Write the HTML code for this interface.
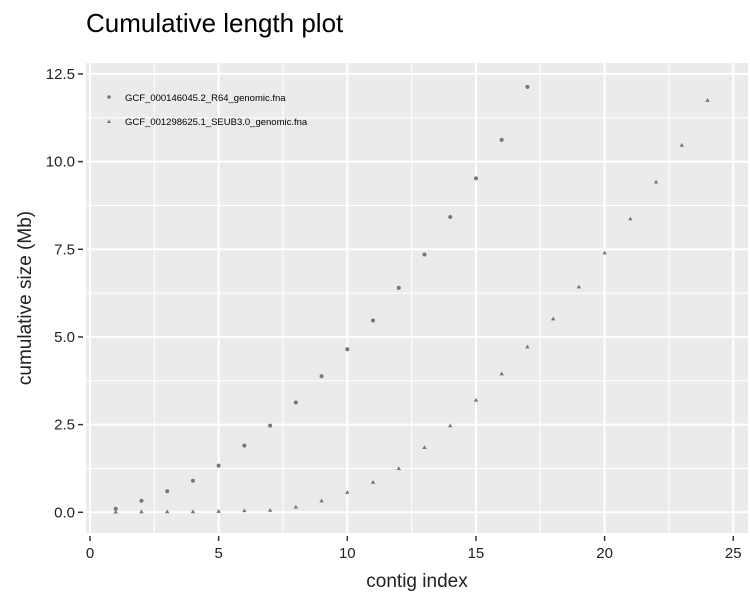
<!DOCTYPE html>
<html><head><meta charset="utf-8"><style>
body{margin:0;background:#fff;font-family:"Liberation Sans",Arial,sans-serif}
</style></head><body>
<svg id="chart" width="750" height="600" xmlns="http://www.w3.org/2000/svg">
<text x="86" y="32" font-size="26" fill="#000">Cumulative length plot</text>
<rect x="86" y="63" width="662" height="470" fill="#ebebeb"/>
<g id="grid"></g>
<g id="axes"></g>
<g id="points"></g>
<text x="417" y="587" font-size="19" text-anchor="middle" fill="#222">contig index</text>
<text transform="translate(31,298) rotate(-90)" font-size="19" text-anchor="middle" fill="#222">cumulative size (Mb)</text>
<g>
<circle cx="109" cy="97" r="1.8" fill="#777"/>
<text x="125" y="101" font-size="9.5" fill="#000">GCF_000146045.2_R64_genomic.fna</text>
<path d="M107,123 L111,123 L109,119.5 Z" fill="#777"/>
<text x="125" y="125" font-size="9.5" fill="#000">GCF_001298625.1_SEUB3.0_genomic.fna</text>
</g>
</svg>
<script>
const xTicks=[0,5,10,15,20,25];
const yTicks=[0,2.5,5,7.5,10,12.5];
const yTickLabels=["0.0","2.5","5.0","7.5","10.0","12.5"];
const r64Values=[0.1,0.33,0.6,0.9,1.33,1.9,2.47,3.13,3.88,4.65,5.47,6.4,7.35,8.42,9.52,10.62,12.13];
const seubValues=[0.01,0.02,0.02,0.02,0.03,0.05,0.06,0.15,0.33,0.57,0.86,1.25,1.85,2.47,3.2,3.95,4.72,5.52,6.43,7.4,8.37,9.42,10.47,11.75];
const NS="http://www.w3.org/2000/svg";
const X=v=>90+v*25.73, Y=v=>512.3-v*35.07;
function mk(tag,attrs,parent){const e=document.createElementNS(NS,tag);for(const k in attrs)e.setAttribute(k,attrs[k]);document.getElementById(parent).appendChild(e);return e;}
for(let i=0;i<xTicks.length;i++){
  const x=X(xTicks[i]);
  const g=mk('line',{x1:x,x2:x,y1:63,y2:533,stroke:'#fff','stroke-width':2},'grid');
  
  
  if(i<xTicks.length-1){const m=X(xTicks[i]+2.5);const mg=mk('line',{x1:m,x2:m,y1:63,y2:533,stroke:'#fff','stroke-width':1},'grid');
  
  }
  const t=mk('line',{x1:x,x2:x,y1:536,y2:541,stroke:'#333','stroke-width':1.5},'axes');
  
  
  const l=mk('text',{x:x,y:558,'font-size':15,'text-anchor':'middle',fill:'#222'},'axes');l.textContent=xTicks[i];
  
  
}
for(let i=0;i<yTicks.length;i++){
  const y=Y(yTicks[i]);
  const g=mk('line',{x1:86,x2:748,y1:y,y2:y,stroke:'#fff','stroke-width':2},'grid');
  
  
  if(i<yTicks.length-1){const m=Y(yTicks[i]+1.25);const mg=mk('line',{x1:86,x2:748,y1:m,y2:m,stroke:'#fff','stroke-width':1},'grid');
  
  }
  const t=mk('line',{x1:78,x2:83,y1:y,y2:y,stroke:'#333','stroke-width':1.5},'axes');
  
  
  const l=mk('text',{x:75,y:y+5,'font-size':15,'text-anchor':'end',fill:'#222'},'axes');l.textContent=yTickLabels[i];
  
  
}
r64Values.forEach((v,i)=>{
  const c=mk('circle',{cx:X(i+1),cy:Y(v),r:2,fill:'#777'},'points');
  
  
});
seubValues.forEach((v,i)=>{
  const x=X(i+1),y=Y(v);
  const p=mk('path',{d:`M${x-2.2},${y+1.6} L${x+2.2},${y+1.6} L${x},${y-2.2} Z`,fill:'#777'},'points');
  
  
});
</script>
</body></html>
